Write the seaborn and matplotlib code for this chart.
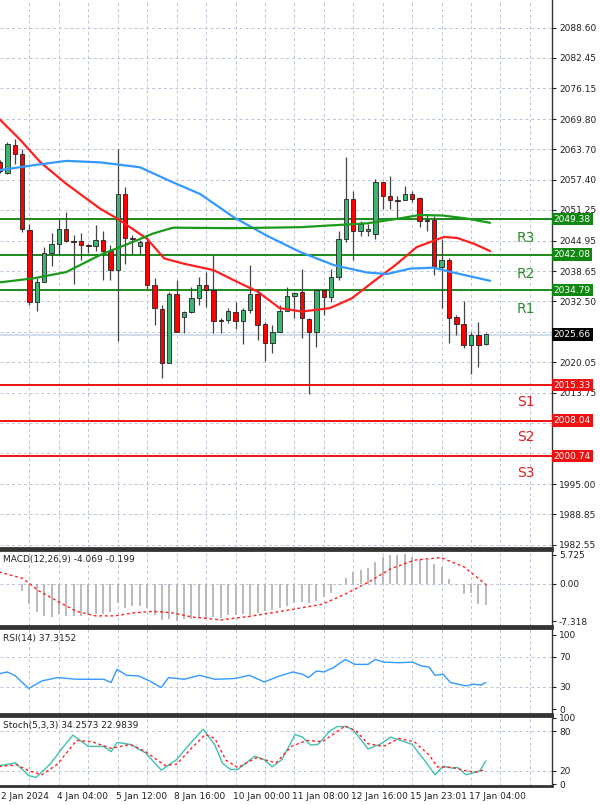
import numpy as np
import pandas as pd
import matplotlib
matplotlib.use("Agg")
import matplotlib.pyplot as plt
import seaborn as sns

# ── candles (4H) ─────────────────────────────────────────────────────────────
opens = [2061.0, 2058.9, 2064.5, 2062.7, 2047.2, 2032.4, 2036.5, 2042.5, 2044.3, 2047.4,
         2044.8, 2044.9, 2044.0, 2043.9, 2045.0, 2042.8, 2038.9, 2054.5, 2045.5, 2043.8,
         2044.6, 2035.8, 2031.0, 2019.8, 2034.1, 2029.2, 2030.4, 2033.2, 2035.8, 2034.8,
         2028.7, 2028.7, 2030.4, 2028.5, 2030.7, 2033.9, 2027.8, 2023.9, 2026.3, 2030.5,
         2033.6, 2034.5, 2028.9, 2026.3, 2034.8, 2033.4, 2037.5, 2045.2, 2053.5, 2047.0,
         2047.0, 2046.4, 2056.9, 2054.0, 2053.2, 2053.2, 2054.5, 2053.6, 2049.1, 2049.1,
         2039.6, 2040.9, 2029.2, 2027.8, 2023.6, 2025.6, 2023.7]
closes = [2059.3, 2064.7, 2062.7, 2047.4, 2032.4, 2036.5, 2042.5, 2044.3, 2047.4, 2044.8,
          2044.7, 2044.0, 2043.9, 2045.0, 2042.8, 2038.9, 2054.5, 2045.5, 2045.3, 2044.6,
          2035.8, 2031.2, 2019.8, 2034.1, 2026.2, 2030.4, 2033.2, 2035.8, 2034.8, 2028.5,
          2028.5, 2030.5, 2028.5, 2030.7, 2033.9, 2027.7, 2023.9, 2026.3, 2030.5, 2033.6,
          2034.2, 2029.0, 2026.3, 2034.8, 2033.4, 2037.5, 2045.2, 2053.5, 2047.0, 2048.4,
          2047.4, 2056.9, 2054.2, 2053.2, 2053.1, 2054.5, 2053.5, 2048.9, 2048.9, 2039.6,
          2040.9, 2029.0, 2027.8, 2023.6, 2025.6, 2023.6, 2025.7]
highs = [2061.5, 2065.1, 2065.7, 2063.8, 2048.4, 2037.2, 2043.6, 2046.6, 2049.3, 2050.8,
         2046.0, 2046.6, 2044.3, 2048.1, 2047.0, 2044.0, 2063.7, 2055.9, 2046.0, 2045.0,
         2045.7, 2037.2, 2031.7, 2034.4, 2036.8, 2030.5, 2035.5, 2037.5, 2038.5, 2041.9,
         2029.0, 2031.1, 2032.4, 2031.1, 2040.0, 2035.1, 2028.3, 2027.7, 2031.7, 2035.5,
         2034.4, 2039.2, 2029.0, 2035.1, 2035.1, 2039.2, 2047.0, 2062.0, 2055.2, 2048.9,
         2048.4, 2057.6, 2057.2, 2058.3, 2054.2, 2056.1, 2055.2, 2053.8, 2050.2, 2050.0,
         2045.2, 2041.3, 2029.7, 2032.5, 2026.3, 2028.3, 2025.9]
lows = [2058.8, 2058.6, 2060.6, 2046.7, 2031.7, 2030.5, 2036.4, 2039.8, 2042.1, 2044.6,
        2036.0, 2040.9, 2042.5, 2042.8, 2036.8, 2036.8, 2024.4, 2040.2, 2042.3, 2042.3,
        2035.0, 2027.6, 2016.8, 2019.8, 2026.2, 2026.0, 2030.0, 2031.7, 2031.4, 2026.0,
        2026.0, 2028.0, 2026.8, 2023.7, 2030.0, 2024.6, 2020.2, 2021.9, 2026.2, 2030.5,
        2029.0, 2024.9, 2013.5, 2023.2, 2029.7, 2032.4, 2036.8, 2044.7, 2040.9, 2045.9,
        2045.9, 2045.3, 2051.5, 2051.5, 2049.4, 2053.2, 2052.8, 2047.7, 2047.0, 2037.9,
        2031.1, 2023.9, 2025.6, 2023.0, 2017.5, 2019.0, 2023.6]

# moving averages (read at sample candles)
ma_red_x = [-0.5, 2.7, 5.5, 9, 13.6, 16, 20, 22.3, 25, 29, 31.8, 35, 38, 41, 44.8, 47.8,
            50.7, 53.7, 56.6, 60.3, 62.1, 64.4, 66.6]
ma_red_y = [2070.5, 2065.7, 2061.0, 2056.6, 2051.5, 2049.4, 2045.3, 2041.3, 2040.2, 2038.9,
            2036.8, 2034.5, 2031.1, 2030.4, 2031.1, 2033.1, 2036.5, 2039.9, 2043.6, 2045.7,
            2045.5, 2044.3, 2042.8]
ma_blue_x = [-0.5, 4.5, 9, 13.6, 19, 23.5, 27.2, 31.7, 36.2, 40.8, 45.4, 49.9, 52.6, 55.7,
             58.9, 61.6, 66.6]
ma_blue_y = [2059.3, 2060.4, 2061.3, 2061.0, 2060.0, 2056.9, 2054.5, 2049.8, 2046.0, 2042.6,
             2039.9, 2038.4, 2038.1, 2039.2, 2039.4, 2038.4, 2036.7]
ma_green_x = [-0.5, 4.5, 9, 13.6, 18.1, 20.8, 23.5, 31.7, 40.8, 49.9, 54.3, 57.0, 60.1,
              63.3, 66.6]
ma_green_y = [2036.3, 2037.2, 2038.5, 2042.0, 2044.7, 2046.4, 2047.6, 2047.5, 2047.7, 2048.5,
              2049.5, 2050.2, 2050.1, 2049.5, 2048.6]

# support / resistance
res_levels = [2034.79, 2042.08, 2049.38]
res_names = ["R1", "R2", "R3"]
sup_levels = [2015.33, 2008.04, 2000.74]
sup_names = ["S1", "S2", "S3"]
last_price = 2025.66

price_ticks = [2088.60, 2082.45, 2076.15, 2069.80, 2063.70, 2057.40, 2051.25, 2044.95,
               2038.65, 2032.50, 2026.20, 2020.05, 2013.75, 2007.45, 2001.30, 1995.00,
               1988.85, 1982.55]
hidden_ticks = [2026.20, 2007.45, 2001.30]   # covered by level boxes

# MACD histogram per candle (from idx 3) and signal samples
macd_hist = [-1.3, -4.0, -5.6, -6.3, -6.5, -5.9, -6.4, -6.4, -6.3, -6.1, -6.0, -5.9, -5.6,
             -3.7, -4.7, -4.4, -4.3, -4.7, -6.1, -7.2, -7.0, -7.4, -7.0, -6.9, -6.7, -6.7,
             -6.5, -6.7, -6.2, -6.1, -5.9, -6.1, -5.7, -5.4, -5.1, -4.7, -4.4, -3.7, -3.6,
             -3.7, -3.4, -2.5, -1.7, -0.3, 1.1, 2.4, 2.7, 3.2, 4.4, 5.4, 5.7, 5.8, 5.9, 5.4,
             4.9, 4.7, 4.0, 3.4, 1.0, -0.3, -2.0, -1.7, -4.0, -4.1]
macd_sig_x = [-0.5, 3.1, 5.2, 7.8, 10.4, 13, 15.6, 18.2, 20.8, 23.4, 26, 30, 33.9, 39, 43.8,
              46.9, 50, 53.1, 56.3, 59.9, 63, 66.1]
macd_sig_y = [2.5, 1.1, -1.3, -3.4, -5.4, -6.3, -6.3, -5.7, -5.4, -5.7, -6.5, -7.1, -6.4,
              -5.2, -4.0, -2.0, 0.3, 3.0, 4.7, 5.2, 3.4, -0.2]

rsi_x = [-0.5, 1, 2.1, 3.9, 5.7, 7.8, 10.4, 14.1, 15.1, 15.9, 17.2, 18.8, 20.3, 21.9, 22.9,
         25, 27.1, 29.2, 31.8, 33.9, 35.9, 38, 39.8, 41.1, 41.9, 43, 44, 45.3, 46.9, 48.2,
         50, 51, 52.1, 54.2, 56, 57.3, 58.3, 59.1, 60.2, 61.2, 63.3, 64.3, 65.4, 66]
rsi_y = [46.7, 49.8, 44.5, 27.6, 37.8, 42.2, 40.0, 40.0, 35.6, 53.3, 45.3, 44.5, 37.8, 28.9,
         42.2, 40.0, 45.3, 40.0, 40.9, 45.3, 36.4, 44.5, 49.8, 46.7, 42.2, 51.1, 49.8, 55.6,
         66.7, 60.0, 60.0, 66.7, 63.1, 62.2, 63.1, 57.8, 56.4, 45.3, 46.7, 35.6, 31.1, 33.3,
         32.4, 35.6]

stk_x = [-0.5, 2.1, 3.9, 4.9, 6.8, 8.3, 9.9, 12, 14.1, 15.1, 15.9, 17.7, 19.8, 21.9, 24,
         25.5, 27.6, 29.2, 30.2, 31.3, 32.3, 34.6, 35.9, 37, 38.3, 40.1, 41.1, 42.2, 43.2,
         44.8, 45.8, 46.9, 47.9, 49.2, 50, 51.6, 53.1, 54.7, 56, 57.6, 59.1, 60.2, 61.5,
         62.2, 63.3, 64.6, 65.2, 66]
stk_k = [27, 32, 12.7, 10, 30, 52, 74, 57, 57, 49, 63, 60, 47, 21, 37, 57, 83, 59, 32, 22,
         22, 42, 37, 26, 37, 75, 71, 59, 60, 80, 87, 87, 83, 65, 53, 60, 71, 65, 60, 37, 14,
         27, 24, 25, 14, 18, 20, 35]
std_x = [-0.5, 2.3, 3.9, 5.7, 7.8, 10.4, 12.5, 15.1, 17.7, 19.8, 22.4, 24, 26, 27.9, 29.2,
         30.7, 32.3, 34.9, 37.5, 39.6, 41.7, 43.8, 46.9, 48.4, 50, 52.1, 54.2, 56.3, 58.3,
         59.4, 61.5, 63.3, 64.6, 66]
std_d = [26, 29, 20, 14, 30, 66, 64, 54, 60, 49, 28, 30, 54, 75, 69, 36, 25, 40, 32, 57, 66,
         64, 88, 80, 61, 57, 69, 64, 44, 26, 25, 20, 18, 22]

x_labels = ["2 Jan 2024", "4 Jan 04:00", "5 Jan 12:00", "8 Jan 16:00", "10 Jan 00:00",
            "11 Jan 08:00", "12 Jan 16:00", "15 Jan 23:01", "17 Jan 04:00"]

# ── figure ───────────────────────────────────────────────────────────────────
sns.set_style("white")
plt.rcParams["font.family"] = "DejaVu Sans"
W, H = 600, 805
fig = plt.figure(figsize=(6, 8.05), dpi=100)

def axes_px(top, bottom, right=552):
    return fig.add_axes([0, 1 - bottom / H, right / W, (bottom - top) / H])

ax = axes_px(0, 548)
ax_macd = axes_px(550, 626)
ax_rsi = axes_px(628, 714)
ax_sto = axes_px(716, 786)

XMIN, XMAX = 0, 75
grid_kw = dict(color="#b8c4d6", linestyle=(0, (3, 3)), linewidth=0.7, zorder=0)

for a in (ax, ax_macd, ax_rsi, ax_sto):
    a.set_xlim(XMIN, XMAX)
    for gx in range(4, 76, 4):
        a.axvline(gx, **grid_kw)
    a.yaxis.tick_right()
    a.tick_params(axis="y", labelsize=6.5, length=3, pad=2, colors="#222222")
    a.set_xticks([])
    for s in a.spines.values():
        s.set_color("#333333")
        s.set_linewidth(1.0)
    a.spines["left"].set_visible(False)
    a.spines["top"].set_linewidth(2.0)
    a.spines["bottom"].set_linewidth(2.0)
ax.spines["top"].set_visible(False)

# main panel
ax.set_ylim(1981.9, 2094.3)
ax.set_yticks(price_ticks)
ax.set_yticklabels(["" if t in hidden_ticks else f"{t:.2f}" for t in price_ticks])
for t in price_ticks:
    ax.axhline(t, **grid_kw)

idx = np.arange(len(opens))
df = pd.DataFrame({"i": idx, "o": opens, "c": closes, "h": highs, "l": lows})
up = df[df.c >= df.o]
dn = df[df.c < df.o]
ax.vlines(df.i, df.l, df.h, color="#444444", linewidth=0.9, zorder=3)
ax.bar(up.i, up.c - up.o, bottom=up.o, width=0.6, color="#3cb371",
       edgecolor="#222222", linewidth=0.6, zorder=4)
ax.bar(dn.i, dn.o - dn.c, bottom=dn.c, width=0.6, color="#ff0000",
       edgecolor="#222222", linewidth=0.6, zorder=4)

sns.lineplot(x=ma_red_x, y=ma_red_y, ax=ax, color="#ff2020", linewidth=1.6, zorder=5)
sns.lineplot(x=ma_blue_x, y=ma_blue_y, ax=ax, color="#3399ff", linewidth=1.6, zorder=5)
sns.lineplot(x=ma_green_x, y=ma_green_y, ax=ax, color="#1a9a1a", linewidth=1.6, zorder=5)

box_kw = dict(transform=ax.get_yaxis_transform(), fontsize=6.5, color="white",
              va="center", ha="left")
ax.axhline(last_price, color="#c8d8e8", linewidth=1.2, zorder=2)
for lvl, name in zip(res_levels, res_names):
    ax.axhline(lvl, color="#1a8a1a", linewidth=1.4, zorder=2)
    ax.text(71.5, lvl - 2.5, name, color="#2e8b2e", fontsize=10, ha="center", va="top")
    ax.text(1.003, lvl, f"{lvl:.2f}", bbox=dict(boxstyle="square,pad=0.2", fc="#118811",
                                                ec="none"), **box_kw)
for lvl, name in zip(sup_levels, sup_names):
    ax.axhline(lvl, color="#ee1111", linewidth=1.4, zorder=2)
    ax.text(71.5, lvl - 2.0, name, color="#e02020", fontsize=10, ha="center", va="top")
    ax.text(1.003, lvl, f"{lvl:.2f}", bbox=dict(boxstyle="square,pad=0.2", fc="#ee1111",
                                                ec="none"), **box_kw)
ax.text(1.003, last_price, f"{last_price:.2f}",
        bbox=dict(boxstyle="square,pad=0.2", fc="black", ec="none"), **box_kw)

# MACD
ax_macd.set_ylim(-8.3, 6.7)
ax_macd.set_yticks([5.725, 0.0, -7.318])
ax_macd.set_yticklabels(["5.725", "0.00", "-7.318"])
ax_macd.axhline(0, **grid_kw)
ax_macd.vlines(np.arange(3, 3 + len(macd_hist)), 0, macd_hist, color="#b4b4b4",
               linewidth=1.3, zorder=2)
sns.lineplot(x=macd_sig_x, y=macd_sig_y, ax=ax_macd, color="#ff2020", linewidth=1.0,
             linestyle=(0, (2, 2)), zorder=3)
ax_macd.text(0.005, 0.93, "MACD(12,26,9) -4.069 -0.199", transform=ax_macd.transAxes,
             fontsize=6.5, va="top", color="#222222")

# RSI
ax_rsi.set_ylim(-6.7, 108.9)
ax_rsi.set_yticks([100, 70, 30, 0])
for t in (70, 30):
    ax_rsi.axhline(t, **grid_kw)
sns.lineplot(x=rsi_x, y=rsi_y, ax=ax_rsi, color="#3399ff", linewidth=1.0, zorder=3)
ax_rsi.text(0.005, 0.93, "RSI(14) 37.3152", transform=ax_rsi.transAxes,
            fontsize=6.5, va="top", color="#222222")

# Stochastic
ax_sto.set_ylim(-3, 103)
ax_sto.set_yticks([100, 80, 20, 0])
for t in (80, 20):
    ax_sto.axhline(t, **grid_kw)
sns.lineplot(x=stk_x, y=stk_k, ax=ax_sto, color="#40c0b0", linewidth=1.0, zorder=3)
sns.lineplot(x=std_x, y=std_d, ax=ax_sto, color="#ff2020", linewidth=1.0,
             linestyle=(0, (2, 2)), zorder=3)
ax_sto.text(0.005, 0.93, "Stoch(5,3,3) 34.2573 22.9839", transform=ax_sto.transAxes,
            fontsize=6.5, va="top", color="#222222")

for a in (ax, ax_macd, ax_rsi, ax_sto):
    a.set_xlabel("")
    a.set_ylabel("")

# time labels under the last panel
for k, lab in enumerate(x_labels):
    xpos = max(k * 8 - 0.3, 0.1)
    ax_sto.text(xpos, -0.08, lab, transform=ax_sto.get_xaxis_transform(), fontsize=6.5,
                ha="left", va="top", color="#222222", clip_on=False)

fig.savefig("out.png", dpi=100)
